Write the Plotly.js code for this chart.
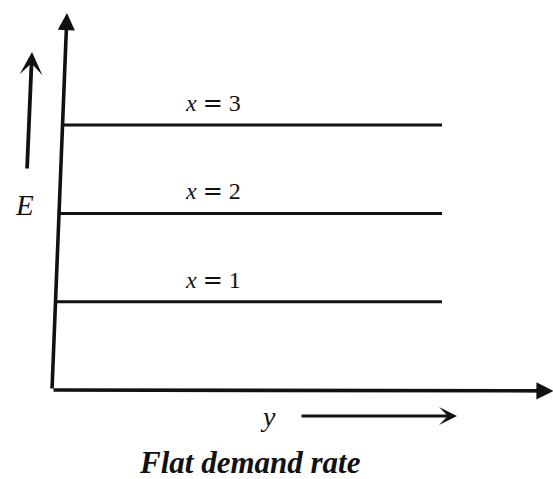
<!DOCTYPE html>
<html>
<head>
<meta charset="utf-8">
<script src="https://cdn.plot.ly/plotly-3.0.1.min.js"></script>
<style>html,body{margin:0;padding:0;background:#fff;}#chart{width:553px;height:479px;}</style>
</head>
<body>
<div id="chart"></div>
<script>
// Flat demand rate: E is constant in y for each value of x
const xValues = [1, 2, 3];
const eLevels = [1, 2, 3];
const lineLabels = ['<i>x</i> <span style="font-family:DejaVu Serif">=</span> 1',
                    '<i>x</i> <span style="font-family:DejaVu Serif">=</span> 2',
                    '<i>x</i> <span style="font-family:DejaVu Serif">=</span> 3'];
const yStart = 0;
const yEnd = 7.8;
const axisLabelE = '<i>E</i>';
const axisLabelY = '<i>y</i>';
const captionText = '<b><i>Flat demand rate</i></b>';

const W = 553, H = 479;
const serif = 'Liberation Serif, Times New Roman, serif';
const ink = '#111';
// slight lean of the hand-drawn vertical axis (y units per E unit)
const lean = 0.3 / 4.27;

const px = v => v / W;            // pixel x -> paper
const py = v => 1 - v / H;        // pixel y -> paper

const traces = eLevels.map((e, i) => ({
  type: 'scatter', mode: 'lines',
  x: [yStart + lean * e, yEnd], y: [e, e],
  line: {color: ink, width: 3},
  hoverinfo: 'skip', showlegend: false
}));

const annotations = [];
eLevels.forEach((e, i) => {
  annotations.push({
    x: 3.22, y: e + 0.25, xref: 'x', yref: 'y',
    text: lineLabels[i], showarrow: false,
    font: {family: serif, size: 24, color: ink}
  });
});
// vertical axis (E) with arrow
annotations.push({
  x: lean * 4.27, y: 4.27, ax: 0, ay: 0, axref: 'x', ayref: 'y', xref: 'x', yref: 'y',
  text: '', showarrow: true, arrowhead: 2, arrowsize: 0.95, arrowwidth: 3.6, arrowcolor: ink
});
// horizontal axis (y) with arrow
annotations.push({
  x: 10.03, y: -0.01, ax: 0, ay: 0, axref: 'x', ayref: 'y', xref: 'x', yref: 'y',
  text: '', showarrow: true, arrowhead: 2, arrowsize: 0.95, arrowwidth: 3.6, arrowcolor: ink
});
// E label and arrow
annotations.push({
  x: px(13), y: py(205), xref: 'paper', yref: 'paper',
  text: axisLabelE, showarrow: false,
  font: {family: serif, size: 29, color: ink}
});
annotations.push({
  x: px(32), y: py(52), xref: 'paper', yref: 'paper',
  ax: -5, ay: 118, text: '', showarrow: true,
  arrowhead: 3, arrowsize: 1.0, arrowwidth: 3.8, arrowcolor: ink
});
// y label and arrow
annotations.push({
  x: px(268), y: py(434), xref: 'paper', yref: 'paper',
  text: axisLabelY, showarrow: false,
  font: {family: serif, size: 28, color: ink}
});
annotations.push({
  x: px(457), y: py(416), xref: 'paper', yref: 'paper',
  ax: -157, ay: 0, text: '', showarrow: true,
  arrowhead: 3, arrowsize: 1.0, arrowwidth: 3.0, arrowcolor: ink
});
// caption
annotations.push({
  x: px(250), y: py(482), xref: 'paper', yref: 'paper',
  text: captionText, showarrow: false,
  font: {family: serif, size: 31, color: ink}
});

const hidden = {showgrid: false, zeroline: false, showticklabels: false, showline: false, ticks: '', fixedrange: true};

const layout = {
  width: W, height: H,
  margin: {l: 0, r: 0, t: 0, b: 0},
  paper_bgcolor: '#fff', plot_bgcolor: '#fff',
  // origin of the drawing sits at pixel (52, 390); 50 px per y unit, 88.3 px per E unit
  xaxis: Object.assign({range: [-52 / 50, (W - 52) / 50]}, hidden),
  yaxis: Object.assign({range: [-(H - 390) / 88.3, 390 / 88.3]}, hidden),
  showlegend: false,
  annotations: annotations
};

Plotly.newPlot('chart', traces, layout, {displayModeBar: false, staticPlot: true});
</script>
</body>
</html>
